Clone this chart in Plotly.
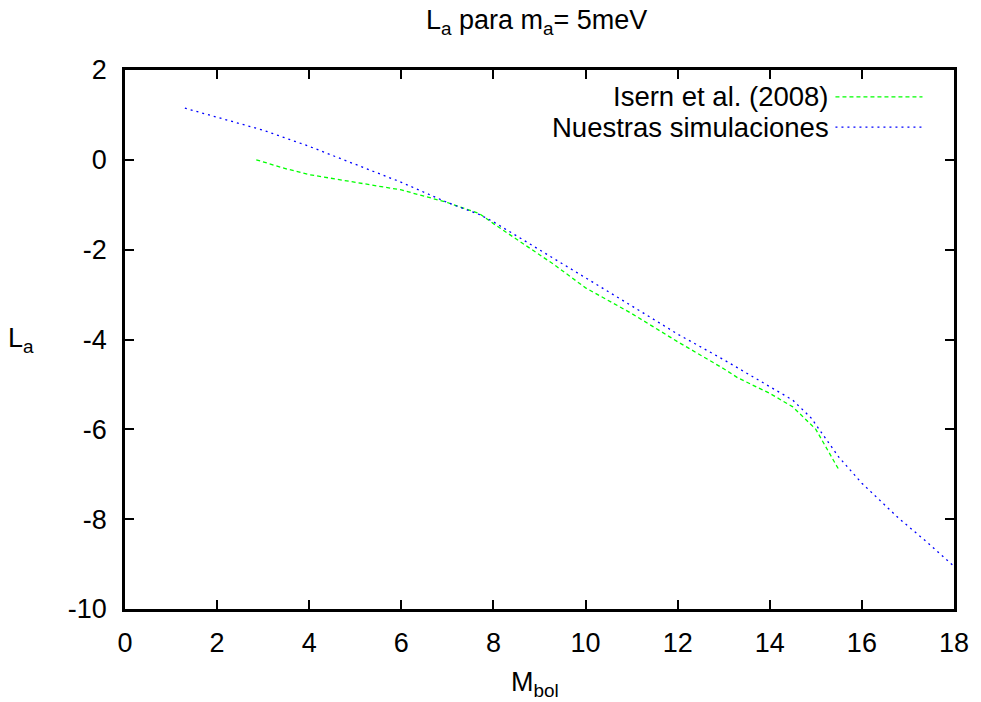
import plotly.graph_objects as go

# Data
isern_x = [2.85, 3.5, 4.0, 5.0, 6.0, 7.0, 7.7, 8.0, 9.0, 9.3, 10.0, 11.0, 12.0, 13.0, 13.3, 14.0, 14.5, 15.0, 15.5]
isern_y = [0.0, -0.2, -0.33, -0.5, -0.67, -0.95, -1.2, -1.42, -2.1, -2.32, -2.85, -3.42, -4.05, -4.65, -4.85, -5.2, -5.5, -6.0, -6.9]

sim_x = [1.3, 2.0, 3.0, 4.0, 5.0, 6.0, 7.0, 7.7, 8.0, 9.0, 10.0, 11.0, 12.0, 13.0, 14.0, 14.5, 14.9, 15.5, 16.0, 16.8, 17.4, 18.0]
sim_y = [1.15, 0.95, 0.66, 0.3, -0.1, -0.5, -0.95, -1.22, -1.38, -2.0, -2.62, -3.25, -3.88, -4.45, -5.05, -5.35, -5.75, -6.62, -7.2, -7.98, -8.5, -9.05]

series_names = ["Isern et al. (2008)", "Nuestras simulaciones"]
series_colors = ["#00ff00", "#0000ff"]
series_dash = ["4px,3px", "2px,4px"]

x_ticks = list(range(0, 19, 2))
y_ticks = list(range(-10, 3, 2))

FONT = "Liberation Sans, Arial, Helvetica, sans-serif"
FS = 27

fig = go.Figure()
for xs, ys, name, col, dash in zip([isern_x, sim_x], [isern_y, sim_y], series_names, series_colors, series_dash):
    fig.add_trace(go.Scatter(x=xs, y=ys, mode="lines", name=name,
                             line=dict(color=col, width=1.3, dash=dash),
                             showlegend=False))

# gnuplot-style legend (text right-aligned, sample on the right)
legend_y = [0.950, 0.894]
for name, col, dash, ly in zip(series_names, series_colors, series_dash, legend_y):
    fig.add_annotation(xref="paper", yref="paper", x=0.852, y=ly, text=name,
                       showarrow=False, xanchor="right", yanchor="middle",
                       font=dict(family=FONT, size=FS + 0.5, color="black"))
    fig.add_shape(type="line", xref="paper", yref="paper", x0=0.857, x1=0.962, y0=ly, y1=ly,
                  line=dict(color=col, width=1.2, dash=dash))

axis_common = dict(showgrid=False, zeroline=False, showline=True, linecolor="black", linewidth=2.5,
                   mirror="allticks", ticks="inside", ticklen=9, tickwidth=2, tickcolor="black",
                   tickfont=dict(family=FONT, size=FS, color="black"))

fig.update_layout(
    width=981, height=702,
    margin=dict(l=125, r=24, t=70, b=93),
    paper_bgcolor="white", plot_bgcolor="white",
    title=dict(text="L<sub>a</sub> para m<sub>a</sub>= 5meV", x=0.547, xanchor="center",
               y=0.972, yref="container", yanchor="middle",
               font=dict(family=FONT, size=FS, color="black")),
    xaxis=dict(range=[0, 18], tickvals=x_ticks, ticktext=[str(v) for v in x_ticks],
               ticklabelstandoff=8, **axis_common),
    yaxis=dict(range=[-10, 2], tickvals=y_ticks, ticktext=[str(v) for v in y_ticks],
               ticklabelstandoff=10, **axis_common),
)
fig.add_annotation(xref="paper", yref="paper", x=-0.125, y=0.50, text="L<sub>a</sub>",
                   showarrow=False, xanchor="center", yanchor="middle",
                   font=dict(family=FONT, size=FS, color="black"))
fig.add_annotation(xref="paper", yref="paper", x=0.495, y=-0.14, text="M<sub>bol</sub>",
                   showarrow=False, xanchor="center", yanchor="middle",
                   font=dict(family=FONT, size=FS, color="black"))

fig.write_html("out.html")
